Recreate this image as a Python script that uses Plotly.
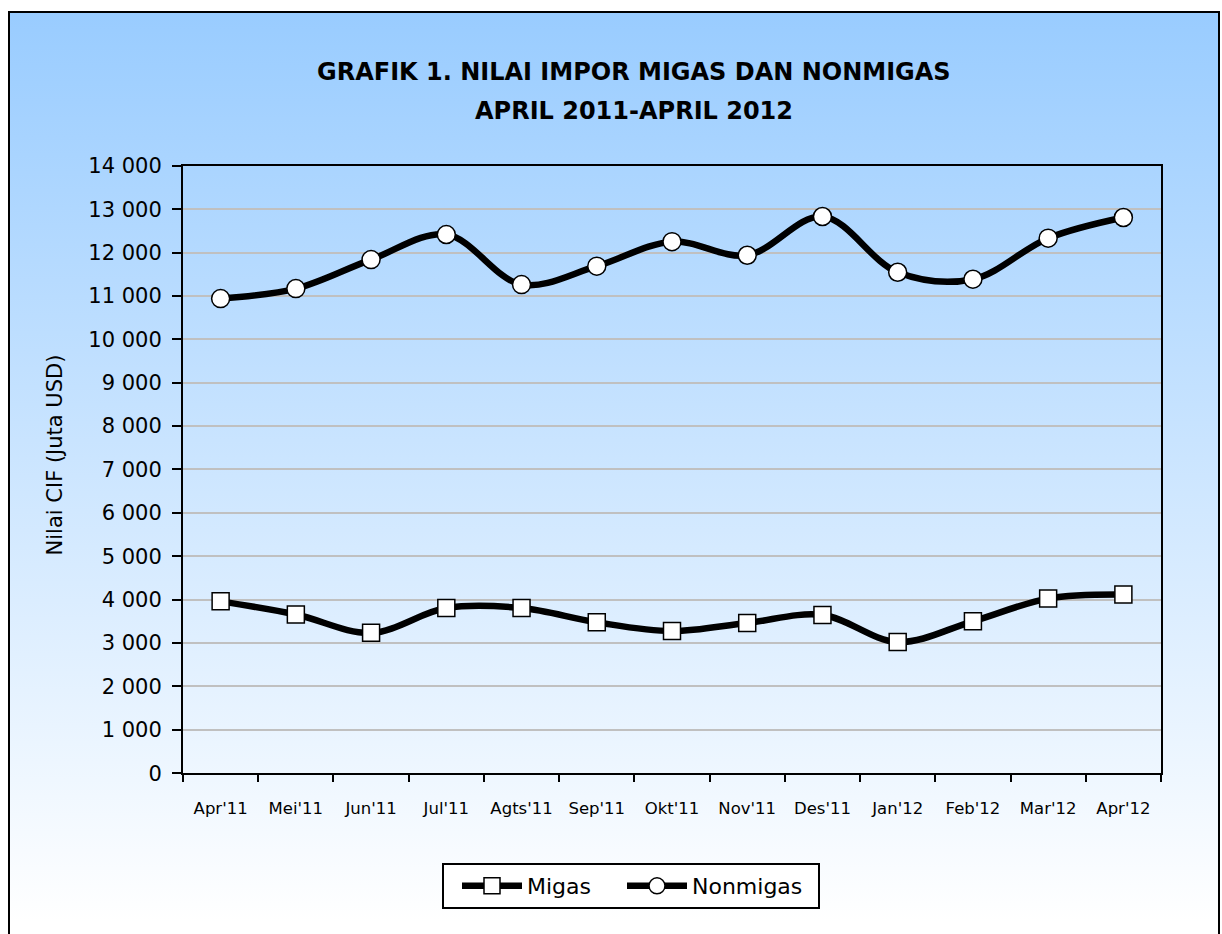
import plotly.graph_objects as go

W, H = 1222, 934

months = ["Apr'11", "Mei'11", "Jun'11", "Jul'11", "Agts'11", "Sep'11", "Okt'11",
          "Nov'11", "Des'11", "Jan'12", "Feb'12", "Mar'12", "Apr'12"]
migas = [3960, 3656, 3234, 3805, 3805, 3477, 3275, 3462, 3646, 3023, 3500, 4023, 4115]
nonmigas = [10938, 11169, 11838, 12415, 11262, 11685, 12250, 11938, 12831, 11546, 11385, 12331, 12808]
ytick_vals = list(range(0, 14001, 1000))
ytick_text = ["0", "1 000", "2 000", "3 000", "4 000", "5 000", "6 000", "7 000",
              "8 000", "9 000", "10 000", "11 000", "12 000", "13 000", "14 000"]

FONT = "DejaVu Sans, Liberation Sans, Arial, sans-serif"


def py(y_px):
    """Map a target screen row to a paper fraction (screen capture is squeezed vertically)."""
    p = (y_px - 11.07) / 0.9753
    return 1 - p / H


def px(x_px):
    return x_px / W


fig = go.Figure()

# background gradient panel (paper-sized helper axes)
fig.add_trace(go.Scatter(
    x=[9, 1219, 1219, 9], y=[H, H, 0, 0],
    xaxis="x", yaxis="y", mode="lines", fill="toself",
    line=dict(width=0),
    fillgradient=dict(type="vertical", colorscale=[[0, "#ffffff"], [1, "#99ccff"]]),
    hoverinfo="skip", showlegend=False,
))

fig.add_trace(go.Scatter(
    x=months, y=migas, name="Migas", xaxis="x2", yaxis="y2", legend="legend",
    mode="lines+markers", line=dict(color="black", width=6.5, shape="spline", smoothing=1.0),
    marker=dict(symbol="square", size=17, color="white", line=dict(color="black", width=1.5)),
))
fig.add_trace(go.Scatter(
    x=months, y=nonmigas, name="Nonmigas", xaxis="x2", yaxis="y2", legend="legend2",
    mode="lines+markers", line=dict(color="black", width=6.5, shape="spline", smoothing=1.0),
    marker=dict(symbol="circle", size=18, color="white", line=dict(color="black", width=1.5)),
))

legend_common = dict(
    orientation="h", xanchor="left", y=py(886), yanchor="middle",
    borderwidth=0, bgcolor="rgba(0,0,0,0)",
    font=dict(size=22, family=FONT), itemwidth=60,
)

fig.update_layout(
    width=W, height=H,
    margin=dict(l=0, r=0, t=0, b=0),
    paper_bgcolor="white", plot_bgcolor="rgba(0,0,0,0)",
    font=dict(family=FONT, color="black"),
    hovermode=False,
    xaxis=dict(domain=[0, 1], range=[0, W], visible=False, fixedrange=True),
    yaxis=dict(domain=[0, 1], range=[0, H], visible=False, fixedrange=True),
    xaxis2=dict(
        domain=[px(183), px(1161)], anchor="y2", type="category",
        range=[-0.5, 12.5], tickson="boundaries", ticks="outside", ticklen=7,
        tickwidth=2, tickcolor="black", showline=True, linecolor="black", linewidth=2,
        mirror=True, showgrid=False, tickfont=dict(size=16.5, family=FONT),
        ticklabelstandoff=19,
    ),
    yaxis2=dict(
        domain=[py(773), py(165)], anchor="x2", range=[0, 14000],
        tickvals=ytick_vals, ticktext=ytick_text, ticks="outside", ticklen=9,
        tickwidth=2, tickcolor="black", showline=True, linecolor="black", linewidth=2,
        mirror=True, showgrid=True, gridcolor="#c0c0c0", gridwidth=2, zeroline=False,
        tickfont=dict(size=21, family=FONT), ticklabelstandoff=6,
    ),
    legend=dict(x=px(457), **legend_common),
    legend2=dict(x=px(622), **legend_common),
    shapes=[
        dict(type="rect", xref="paper", yref="paper",
             x0=px(9), x1=px(1219), y0=-0.05, y1=1.0,
             line=dict(color="black", width=2), layer="above"),
        dict(type="rect", xref="paper", yref="paper",
             x0=px(443), x1=px(819), y0=py(908), y1=py(864),
             fillcolor="white", line=dict(color="black", width=2), layer="above"),
    ],
    annotations=[
        dict(text="<b>GRAFIK 1. NILAI IMPOR MIGAS DAN NONMIGAS</b>", x=px(634), y=py(71),
             xref="paper", yref="paper", showarrow=False, xanchor="center", yanchor="middle",
             font=dict(size=24, family=FONT)),
        dict(text="<b>APRIL 2011-APRIL 2012</b>", x=px(634), y=py(110),
             xref="paper", yref="paper", showarrow=False, xanchor="center", yanchor="middle",
             font=dict(size=24, family=FONT)),
        dict(text="Nilai CIF (Juta USD)", x=px(55), y=py(455), xref="paper", yref="paper",
             showarrow=False, textangle=-90, xanchor="center", yanchor="middle",
             font=dict(size=21, family=FONT)),
    ],
)

fig.write_html(
    "out.html",
    config={"displayModeBar": False},
    post_script="document.body.style.margin='0';document.body.style.overflow='hidden';",
)
